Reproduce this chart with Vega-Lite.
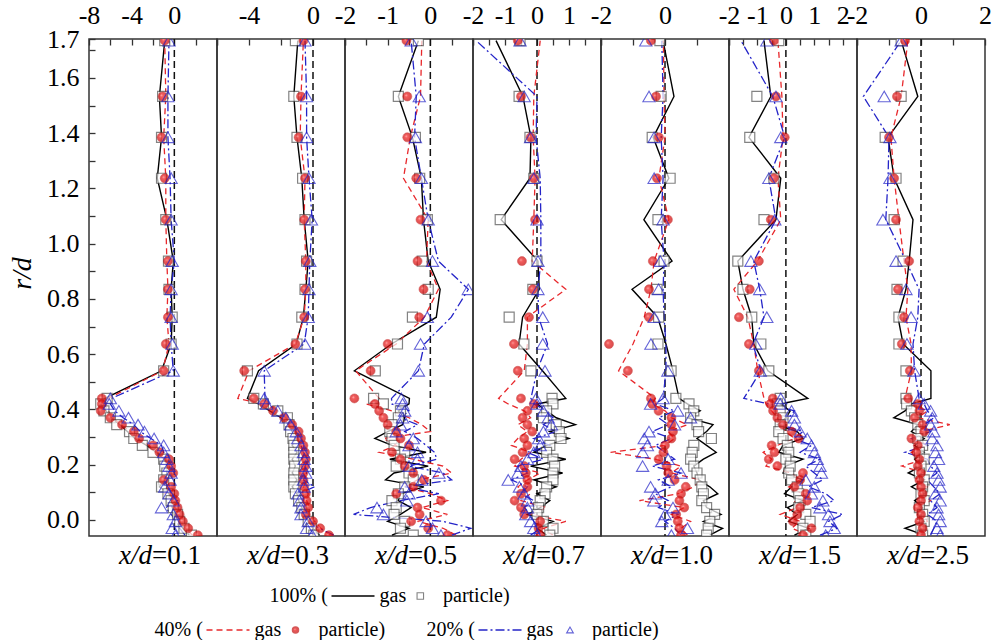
{
  "$schema": "https://vega.github.io/schema/vega-lite/v6.json",
  "background": "white",
  "padding": {"left": 7, "top": 1, "right": 2, "bottom": 0},
  "spacing": 0,
  "bounds": "flush",
  "config": {
    "view": {"stroke": "#333333", "strokeWidth": 1.5},
    "style": {"guide-label": {"font": "Liberation Serif"}, "guide-title": {"font": "Liberation Serif"}},
    "axis": {"labelFont": "Liberation Serif", "labelFontSize": 26, "labelColor": "#000000", "tickColor": "#333333", "tickWidth": 1.3, "domain": false, "grid": false, "labelFlush": false, "labelOverlap": false, "labelBound": false},
    "legend": {"labelFont": "Liberation Serif", "labelFontSize": 20, "labelColor": "#000000", "titleFont": "Liberation Serif", "titleFontSize": 20, "titleFontWeight": "normal", "titleColor": "#000000", "orient": "none", "padding": 0, "clipHeight": 20, "direction": "horizontal", "titleOrient": "left", "titleAnchor": "middle", "titleBaseline": "middle", "titlePadding": 2}
  },
  "datasets": {
    "prof": [
      {"n":1,"r":1.735,"g100":-0.9,"p100":-0.9,"g40":-0.9,"p40":-0.9,"g20":-0.5,"p20":-0.5},
      {"n":1,"r":1.533,"g100":-1.4,"p100":-1.1,"g40":-0.8,"p40":-1.1,"g20":-0.6,"p20":-0.6},
      {"n":1,"r":1.385,"g100":-1.2,"p100":-1.2,"g40":-1.0,"p40":-1.2,"g20":-0.6,"p20":-0.6},
      {"n":1,"r":1.237,"g100":-1.6,"p100":-1.2,"g40":-0.8,"p40":-0.9,"g20":-0.4,"p20":-0.3},
      {"n":1,"r":1.087,"g100":-0.7,"p100":-0.8,"g40":-0.8,"p40":-0.8,"g20":-0.3,"p20":-0.3},
      {"n":1,"r":0.937,"g100":-0.1,"p100":-0.55,"g40":-0.7,"p40":-0.6,"g20":0.0,"p20":-0.2},
      {"n":1,"r":0.835,"g100":-0.3,"p100":-0.5,"g40":-0.6,"p40":-0.6,"g20":-0.3,"p20":-0.3},
      {"n":1,"r":0.734,"g100":-0.2,"p100":-0.2,"g40":-0.7,"p40":-0.6,"g20":-0.4,"p20":-0.3},
      {"n":1,"r":0.637,"g100":-0.3,"p100":-0.3,"g40":-0.5,"p40":-0.8,"g20":-0.3,"p20":-0.2},
      {"n":1,"r":0.54,"g100":-1.2,"p100":-1.0,"g40":-1.1,"p40":-1.0,"g20":-0.1,"p20":-0.1},
      {"n":1,"r":0.44,"g100":-6.5,"p100":-6.3,"g40":-6.2,"p40":-6.8,"g20":-5.9,"p20":-6.0},
      {"n":1,"r":0.42,"g100":-6.9,"p100":-6.9,"g40":-6.6,"p40":-6.8,"g20":-6.0,"p20":-6.1},
      {"n":1,"r":0.395,"g100":-6.4,"p100":-6.6,"g40":-6.2,"p40":-6.9,"g20":-5.6,"p20":-5.2},
      {"n":1,"r":0.37,"g100":-5.9,"p100":-6.0,"g40":-5.8,"p40":-6.0,"g20":-4.8,"p20":-4.3},
      {"n":1,"r":0.345,"g100":-5.1,"p100":-5.4,"g40":-5.0,"p40":-4.9,"g20":-3.8,"p20":-3.4},
      {"n":1,"r":0.32,"g100":-4.4,"p100":-4.2,"g40":-4.1,"p40":-3.8,"g20":-3.2,"p20":-2.8},
      {"n":1,"r":0.295,"g100":-3.7,"p100":-3.8,"g40":-3.5,"p40":-3.3,"g20":-2.2,"p20":-1.9},
      {"n":1,"r":0.27,"g100":-2.6,"p100":-3.0,"g40":-2.4,"p40":-2.0,"g20":-1.2,"p20":-1.0},
      {"n":1,"r":0.245,"g100":-1.7,"p100":-2.0,"g40":-1.6,"p40":-1.4,"g20":-1.0,"p20":-1.0},
      {"n":1,"r":0.22,"g100":-0.9,"p100":-1.0,"g40":-0.8,"p40":-0.5,"g20":-0.8,"p20":-0.7},
      {"n":1,"r":0.195,"g100":-0.7,"p100":-0.9,"g40":-0.5,"p40":-0.3,"g20":-0.6,"p20":-0.5},
      {"n":1,"r":0.17,"g100":-0.7,"p100":-0.7,"g40":-0.4,"p40":-0.1,"g20":-0.4,"p20":-0.3},
      {"n":1,"r":0.145,"g100":-0.9,"p100":-1.0,"g40":-0.8,"p40":-1.0,"g20":-0.7,"p20":-0.4},
      {"n":1,"r":0.12,"g100":-1.4,"p100":-1.2,"g40":-0.4,"p40":-0.3,"g20":-0.9,"p20":-0.9},
      {"n":1,"r":0.095,"g100":-0.5,"p100":-0.6,"g40":-0.9,"p40":0.0,"g20":-0.2,"p20":-0.5},
      {"n":1,"r":0.07,"g100":-0.3,"p100":-0.3,"g40":-0.2,"p40":0.1,"g20":0.3,"p20":-0.1},
      {"n":1,"r":0.045,"g100":-0.2,"p100":-0.1,"g40":0.1,"p40":0.3,"g20":-0.8,"p20":-1.2},
      {"n":1,"r":0.02,"g100":0.2,"p100":0.3,"g40":0.4,"p40":0.5,"g20":-0.3,"p20":-0.1},
      {"n":1,"r":-0.005,"g100":0.5,"p100":0.5,"g40":0.6,"p40":0.8,"g20":0.2,"p20":0.1},
      {"n":1,"r":-0.03,"g100":0.8,"p100":0.9,"g40":1.0,"p40":1.3,"g20":0.5,"p20":-0.2},
      {"n":1,"r":-0.055,"g100":1.4,"p100":1.6,"g40":1.7,"p40":2.2,"g20":1.0,"p20":0.1},

      {"n":2,"r":1.735,"g100":-0.95,"p100":-1.1,"g40":-0.6,"p40":-0.6,"g20":-0.5,"p20":-0.5},
      {"n":2,"r":1.533,"g100":-1.2,"p100":-1.2,"g40":-0.75,"p40":-0.75,"g20":-0.4,"p20":-0.4},
      {"n":2,"r":1.385,"g100":-1.0,"p100":-1.0,"g40":-0.8,"p40":-0.9,"g20":-0.4,"p20":-0.4},
      {"n":2,"r":1.237,"g100":-0.7,"p100":-0.65,"g40":-0.5,"p40":-0.5,"g20":-0.25,"p20":-0.25},
      {"n":2,"r":1.087,"g100":-0.55,"p100":-0.5,"g40":-0.55,"p40":-0.55,"g20":-0.05,"p20":-0.1},
      {"n":2,"r":0.937,"g100":-0.3,"p100":-0.4,"g40":-0.45,"p40":-0.45,"g20":-0.2,"p20":-0.2},
      {"n":2,"r":0.835,"g100":-0.45,"p100":-0.5,"g40":-0.45,"p40":-0.5,"g20":-0.25,"p20":-0.25},
      {"n":2,"r":0.734,"g100":-0.6,"p100":-0.7,"g40":-0.55,"p40":-0.55,"g20":-0.3,"p20":-0.3},
      {"n":2,"r":0.637,"g100":-1.05,"p100":-1.0,"g40":-1.1,"p40":-1.1,"g20":-0.55,"p20":-0.5},
      {"n":2,"r":0.54,"g100":-3.4,"p100":-4.1,"g40":-4.0,"p40":-4.3,"g20":-3.05,"p20":-3.05},
      {"n":2,"r":0.44,"g100":-4.1,"p100":-3.7,"g40":-4.7,"p40":-3.7,"g20":-3.0,"p20":-3.05},
      {"n":2,"r":0.42,"g100":-3.4,"p100":-3.1,"g40":-3.2,"p40":-3.05,"g20":-2.8,"p20":-2.9},
      {"n":2,"r":0.395,"g100":-2.7,"p100":-2.2,"g40":-2.5,"p40":-2.5,"g20":-2.2,"p20":-2.2},
      {"n":2,"r":0.37,"g100":-2.0,"p100":-1.6,"g40":-1.7,"p40":-1.8,"g20":-1.7,"p20":-1.7},
      {"n":2,"r":0.345,"g100":-1.5,"p100":-1.5,"g40":-1.3,"p40":-1.3,"g20":-1.4,"p20":-1.4},
      {"n":2,"r":0.32,"g100":-1.3,"p100":-1.4,"g40":-0.9,"p40":-0.9,"g20":-1.05,"p20":-1.05},
      {"n":2,"r":0.295,"g100":-1.1,"p100":-1.25,"g40":-0.7,"p40":-0.75,"g20":-0.95,"p20":-0.95},
      {"n":2,"r":0.27,"g100":-1.3,"p100":-1.2,"g40":-0.6,"p40":-0.6,"g20":-0.75,"p20":-0.75},
      {"n":2,"r":0.245,"g100":-1.0,"p100":-1.2,"g40":-0.5,"p40":-0.5,"g20":-0.6,"p20":-0.6},
      {"n":2,"r":0.22,"g100":-1.3,"p100":-1.2,"g40":-0.7,"p40":-0.45,"g20":-0.3,"p20":-0.55},
      {"n":2,"r":0.195,"g100":-1.1,"p100":-1.15,"g40":-0.5,"p40":-0.5,"g20":-0.5,"p20":-0.45},
      {"n":2,"r":0.17,"g100":-1.3,"p100":-1.2,"g40":-0.6,"p40":-0.6,"g20":-0.4,"p20":-0.45},
      {"n":2,"r":0.145,"g100":-1.0,"p100":-1.2,"g40":-0.4,"p40":-0.6,"g20":-0.6,"p20":-0.6},
      {"n":2,"r":0.12,"g100":-1.3,"p100":-1.2,"g40":-0.6,"p40":-0.55,"g20":0.1,"p20":-0.55},
      {"n":2,"r":0.095,"g100":-1.0,"p100":-1.1,"g40":-0.3,"p40":-0.45,"g20":-0.9,"p20":-0.95},
      {"n":2,"r":0.07,"g100":-0.9,"p100":-0.9,"g40":-0.4,"p40":-0.4,"g20":-0.6,"p20":-0.85},
      {"n":2,"r":0.045,"g100":-0.7,"p100":-0.7,"g40":-0.2,"p40":-0.3,"g20":-0.7,"p20":-0.75},
      {"n":2,"r":0.02,"g100":-0.5,"p100":-0.55,"g40":-0.3,"p40":-0.45,"g20":-0.5,"p20":-0.75},
      {"n":2,"r":-0.005,"g100":-0.3,"p100":-0.3,"g40":0.1,"p40":0.0,"g20":-0.3,"p20":-0.3},
      {"n":2,"r":-0.03,"g100":0.0,"p100":-0.1,"g40":0.5,"p40":0.45,"g20":0.4,"p20":-0.4},
      {"n":2,"r":-0.055,"g100":0.4,"p100":0.05,"g40":1.1,"p40":1.0,"g20":1.3,"p20":-0.05},

      {"n":3,"r":1.735,"g100":-0.28,"p100":-0.28,"g40":-0.2,"p40":-0.56,"g20":-0.45,"p20":-0.45},
      {"n":3,"r":1.533,"g100":-0.75,"p100":-0.75,"g40":-0.23,"p40":-0.54,"g20":-0.33,"p20":-0.26},
      {"n":3,"r":1.385,"g100":-0.42,"p100":-0.35,"g40":-0.47,"p40":-0.54,"g20":-0.37,"p20":-0.35},
      {"n":3,"r":1.237,"g100":-0.21,"p100":-0.25,"g40":-0.63,"p40":-0.33,"g20":-0.21,"p20":-0.21},
      {"n":3,"r":1.087,"g100":-0.16,"p100":-0.07,"g40":-0.05,"p40":-0.23,"g20":-0.05,"p20":-0.05},
      {"n":3,"r":0.937,"g100":-0.05,"p100":-0.19,"g40":-0.09,"p40":-0.3,"g20":0.19,"p20":0.05},
      {"n":3,"r":0.835,"g100":0.23,"p100":-0.05,"g40":0.19,"p40":-0.16,"g20":0.89,"p20":0.89},
      {"n":3,"r":0.734,"g100":0.14,"p100":-0.42,"g40":-0.14,"p40":-0.26,"g20":0.49,"p20":-0.07},
      {"n":3,"r":0.637,"g100":-0.91,"p100":-0.77,"g40":-0.8,"p40":-1.0,"g20":-0.14,"p20":-0.23},
      {"n":3,"r":0.54,"g100":-1.78,"p100":-1.29,"g40":-1.75,"p40":-1.4,"g20":-0.28,"p20":-0.28},
      {"n":3,"r":0.44,"g100":-0.49,"p100":-1.33,"g40":-1.2,"p40":-1.78,"g20":-0.91,"p20":-0.68},
      {"n":3,"r":0.42,"g100":-0.5,"p100":-1.1,"g40":-1.5,"p40":-1.3,"g20":-0.9,"p20":-0.65},
      {"n":3,"r":0.395,"g100":-0.75,"p100":-0.7,"g40":-0.9,"p40":-1.2,"g20":-0.5,"p20":-0.6},
      {"n":3,"r":0.37,"g100":-0.6,"p100":-0.75,"g40":-0.5,"p40":-1.1,"g20":-0.7,"p20":-0.65},
      {"n":3,"r":0.345,"g100":-0.65,"p100":-0.9,"g40":-0.2,"p40":-1.0,"g20":-0.3,"p20":-0.7},
      {"n":3,"r":0.32,"g100":-1.0,"p100":-0.95,"g40":0.0,"p40":-0.8,"g20":-0.6,"p20":-0.8},
      {"n":3,"r":0.295,"g100":-1.3,"p100":-0.9,"g40":-1.1,"p40":-0.7,"g20":-0.3,"p20":-0.4},
      {"n":3,"r":0.27,"g100":-0.9,"p100":-0.85,"g40":-0.8,"p40":-0.5,"g20":-0.1,"p20":-0.5},
      {"n":3,"r":0.245,"g100":-0.1,"p100":-0.6,"g40":-1.2,"p40":-0.9,"g20":0.1,"p20":-0.3},
      {"n":3,"r":0.22,"g100":-0.95,"p100":-0.7,"g40":-0.4,"p40":-0.7,"g20":0.15,"p20":-0.3},
      {"n":3,"r":0.195,"g100":-0.05,"p100":-0.8,"g40":0.3,"p40":-0.6,"g20":-0.5,"p20":-0.5},
      {"n":3,"r":0.17,"g100":-0.85,"p100":-0.5,"g40":0.5,"p40":-0.4,"g20":0.3,"p20":0.2},
      {"n":3,"r":0.145,"g100":-1.05,"p100":-0.4,"g40":-0.3,"p40":-0.15,"g20":0.5,"p20":-0.2},
      {"n":3,"r":0.12,"g100":-0.15,"p100":-0.6,"g40":-0.6,"p40":-0.4,"g20":-0.6,"p20":-0.6},
      {"n":3,"r":0.095,"g100":-0.7,"p100":-0.75,"g40":0.0,"p40":-0.8,"g20":0.2,"p20":-0.5},
      {"n":3,"r":0.07,"g100":-0.75,"p100":-0.9,"g40":0.4,"p40":0.25,"g20":-0.7,"p20":-0.55},
      {"n":3,"r":0.045,"g100":-0.45,"p100":-0.8,"g40":-0.2,"p40":-0.3,"g20":-1.4,"p20":-1.25},
      {"n":3,"r":0.02,"g100":-0.7,"p100":-0.85,"g40":0.4,"p40":-0.25,"g20":-1.8,"p20":-1.1},
      {"n":3,"r":-0.005,"g100":-1.0,"p100":-0.6,"g40":-0.3,"p40":-0.45,"g20":0.3,"p20":-0.1},
      {"n":3,"r":-0.03,"g100":-0.5,"p100":-0.7,"g40":0.3,"p40":-0.05,"g20":0.95,"p20":0.05},
      {"n":3,"r":-0.055,"g100":-0.9,"p100":-0.4,"g40":0.6,"p40":0.4,"g20":0.5,"p20":0.25},

      {"n":4,"r":1.735,"g100":-1.28,"p100":-0.53,"g40":0.1,"p40":-0.6,"g20":-1.9,"p20":-0.53},
      {"n":4,"r":1.533,"g100":-0.44,"p100":-0.56,"g40":-0.1,"p40":-0.5,"g20":0.0,"p20":-0.4},
      {"n":4,"r":1.385,"g100":-0.19,"p100":-0.22,"g40":-0.12,"p40":-0.2,"g20":-0.03,"p20":-0.2},
      {"n":4,"r":1.237,"g100":-0.22,"p100":-0.1,"g40":-0.06,"p40":-0.1,"g20":0.1,"p20":-0.1},
      {"n":4,"r":1.087,"g100":-1.12,"p100":-1.15,"g40":-0.1,"p40":-0.06,"g20":0.12,"p20":0.0},
      {"n":4,"r":0.937,"g100":0.03,"p100":0.0,"g40":-0.15,"p40":-0.47,"g20":0.12,"p20":0.03},
      {"n":4,"r":0.835,"g100":0.07,"p100":-0.13,"g40":0.9,"p40":-0.13,"g20":0.03,"p20":0.03},
      {"n":4,"r":0.734,"g100":-0.45,"p100":-0.87,"g40":-0.3,"p40":-0.25,"g20":0.05,"p20":0.18},
      {"n":4,"r":0.637,"g100":-0.56,"p100":-0.41,"g40":-0.3,"p40":-0.72,"g20":0.33,"p20":0.18},
      {"n":4,"r":0.54,"g100":0.17,"p100":-0.19,"g40":-0.4,"p40":-0.6,"g20":0.0,"p20":0.25},
      {"n":4,"r":0.44,"g100":0.9,"p100":0.47,"g40":-1.2,"p40":-0.5,"g20":-0.19,"p20":-0.03},
      {"n":4,"r":0.42,"g100":0.0,"p100":0.5,"g40":-0.9,"p40":-0.1,"g20":-0.1,"p20":0.0},
      {"n":4,"r":0.395,"g100":0.3,"p100":0.3,"g40":-0.4,"p40":-0.3,"g20":0.3,"p20":0.2},
      {"n":4,"r":0.37,"g100":0.6,"p100":0.2,"g40":-0.2,"p40":-0.45,"g20":0.5,"p20":0.35},
      {"n":4,"r":0.345,"g100":1.2,"p100":0.6,"g40":-0.6,"p40":-0.3,"g20":0.2,"p20":0.45},
      {"n":4,"r":0.32,"g100":0.4,"p100":0.7,"g40":-0.3,"p40":-0.15,"g20":0.6,"p20":0.2},
      {"n":4,"r":0.295,"g100":1.0,"p100":0.75,"g40":-0.6,"p40":-0.4,"g20":-0.1,"p20":0.05},
      {"n":4,"r":0.27,"g100":0.3,"p100":0.4,"g40":-0.8,"p40":-0.3,"g20":0.4,"p20":0.1},
      {"n":4,"r":0.245,"g100":-0.1,"p100":0.3,"g40":-0.2,"p40":-0.45,"g20":-0.3,"p20":-0.1},
      {"n":4,"r":0.22,"g100":0.9,"p100":0.5,"g40":-0.5,"p40":-0.7,"g20":0.2,"p20":-0.3},
      {"n":4,"r":0.195,"g100":-0.2,"p100":0.55,"g40":-0.7,"p40":-0.4,"g20":-0.6,"p20":-0.5},
      {"n":4,"r":0.17,"g100":0.8,"p100":0.5,"g40":0.1,"p40":-0.35,"g20":-0.3,"p20":-0.6},
      {"n":4,"r":0.145,"g100":-0.1,"p100":0.5,"g40":-0.3,"p40":-0.3,"g20":-0.8,"p20":-0.9},
      {"n":4,"r":0.12,"g100":0.6,"p100":0.3,"g40":-0.6,"p40":-0.3,"g20":-0.3,"p20":-0.55},
      {"n":4,"r":0.095,"g100":0.0,"p100":0.25,"g40":-0.2,"p40":-0.5,"g20":-0.5,"p20":-0.4},
      {"n":4,"r":0.07,"g100":0.4,"p100":0.1,"g40":-0.5,"p40":-0.7,"g20":-0.1,"p20":-0.3},
      {"n":4,"r":0.045,"g100":0.1,"p100":0.05,"g40":0.3,"p40":-0.5,"g20":-0.4,"p20":-0.3},
      {"n":4,"r":0.02,"g100":-0.3,"p100":0.0,"g40":-0.2,"p40":-0.4,"g20":-0.2,"p20":-0.35},
      {"n":4,"r":-0.005,"g100":0.5,"p100":0.2,"g40":0.9,"p40":0.1,"g20":-0.1,"p20":-0.2},
      {"n":4,"r":-0.03,"g100":0.0,"p100":0.5,"g40":0.2,"p40":0.05,"g20":0.1,"p20":-0.1},
      {"n":4,"r":-0.055,"g100":0.3,"p100":0.4,"g40":0.5,"p40":0.1,"g20":-0.2,"p20":0.0},

      {"n":5,"r":1.735,"g100":-0.06,"p100":-0.16,"g40":-0.05,"p40":-0.44,"g20":-0.1,"p20":-0.6},
      {"n":5,"r":1.533,"g100":0.28,"p100":-0.12,"g40":-0.03,"p40":-0.28,"g20":-0.06,"p20":-0.5},
      {"n":5,"r":1.385,"g100":-0.37,"p100":-0.4,"g40":0.0,"p40":-0.19,"g20":-0.12,"p20":-0.34},
      {"n":5,"r":1.237,"g100":0.12,"p100":0.16,"g40":-0.19,"p40":-0.25,"g20":-0.06,"p20":-0.34},
      {"n":5,"r":1.087,"g100":-0.66,"p100":-0.22,"g40":0.12,"p40":0.09,"g20":-0.12,"p20":-0.06},
      {"n":5,"r":0.937,"g100":0.22,"p100":-0.03,"g40":-0.34,"p40":-0.38,"g20":-0.03,"p20":-0.15},
      {"n":5,"r":0.835,"g100":-1.03,"p100":-0.25,"g40":-0.44,"p40":-0.5,"g20":-0.06,"p20":-0.2},
      {"n":5,"r":0.734,"g100":-0.23,"p100":-0.2,"g40":-0.65,"p40":-0.5,"g20":-0.03,"p20":-0.34},
      {"n":5,"r":0.637,"g100":0.03,"p100":-0.22,"g40":-1.0,"p40":-1.75,"g20":0.03,"p20":-0.44},
      {"n":5,"r":0.54,"g100":0.25,"p100":0.19,"g40":-1.45,"p40":-1.16,"g20":0.03,"p20":0.09},
      {"n":5,"r":0.44,"g100":0.44,"p100":0.34,"g40":-0.3,"p40":-0.44,"g20":-0.06,"p20":-0.06},
      {"n":5,"r":0.42,"g100":0.7,"p100":0.75,"g40":-0.4,"p40":-0.4,"g20":-0.3,"p20":-0.45},
      {"n":5,"r":0.395,"g100":1.1,"p100":0.9,"g40":0.0,"p40":-0.2,"g20":0.3,"p20":0.4},
      {"n":5,"r":0.37,"g100":0.7,"p100":0.8,"g40":0.2,"p40":0.2,"g20":-0.2,"p20":0.8},
      {"n":5,"r":0.345,"g100":1.5,"p100":1.0,"g40":0.7,"p40":0.2,"g20":0.1,"p20":0.3},
      {"n":5,"r":0.32,"g100":1.3,"p100":1.05,"g40":0.1,"p40":0.25,"g20":-0.4,"p20":-0.5},
      {"n":5,"r":0.295,"g100":1.0,"p100":1.45,"g40":0.3,"p40":0.2,"g20":0.2,"p20":-0.65},
      {"n":5,"r":0.27,"g100":1.3,"p100":0.9,"g40":0.0,"p40":0.0,"g20":-0.3,"p20":-0.55},
      {"n":5,"r":0.245,"g100":1.6,"p100":0.85,"g40":-1.7,"p40":-0.05,"g20":0.0,"p20":-0.7},
      {"n":5,"r":0.22,"g100":1.2,"p100":0.8,"g40":-0.3,"p40":-0.2,"g20":0.3,"p20":0.1},
      {"n":5,"r":0.195,"g100":0.9,"p100":0.9,"g40":0.5,"p40":0.05,"g20":-0.4,"p20":-0.7},
      {"n":5,"r":0.17,"g100":1.0,"p100":1.0,"g40":0.2,"p40":0.1,"g20":0.5,"p20":0.5},
      {"n":5,"r":0.145,"g100":1.05,"p100":1.1,"g40":1.1,"p40":0.3,"g20":-0.2,"p20":0.1},
      {"n":5,"r":0.12,"g100":1.4,"p100":1.15,"g40":0.9,"p40":0.65,"g20":0.2,"p20":-0.45},
      {"n":5,"r":0.095,"g100":1.65,"p100":1.2,"g40":0.4,"p40":0.5,"g20":-0.3,"p20":-0.3},
      {"n":5,"r":0.07,"g100":1.2,"p100":1.15,"g40":-0.8,"p40":0.45,"g20":0.1,"p20":-0.35},
      {"n":5,"r":0.045,"g100":1.3,"p100":1.3,"g40":0.6,"p40":0.6,"g20":-0.2,"p20":0.25},
      {"n":5,"r":0.02,"g100":1.75,"p100":1.55,"g40":0.2,"p40":0.35,"g20":0.4,"p20":0.0},
      {"n":5,"r":-0.005,"g100":1.2,"p100":1.4,"g40":0.8,"p40":0.4,"g20":0.0,"p20":-0.1},
      {"n":5,"r":-0.03,"g100":1.8,"p100":1.35,"g40":0.5,"p40":0.45,"g20":0.3,"p20":0.7},
      {"n":5,"r":-0.055,"g100":1.4,"p100":1.3,"g40":0.7,"p40":0.5,"g20":0.5,"p20":0.2},

      {"n":6,"r":1.735,"g100":-0.77,"p100":-0.25,"g40":-0.28,"p40":-0.42,"g20":-1.58,"p20":-0.67},
      {"n":6,"r":1.533,"g100":-0.53,"p100":-1.02,"g40":-0.14,"p40":-0.35,"g20":-0.46,"p20":-0.35},
      {"n":6,"r":1.385,"g100":-1.3,"p100":-1.27,"g40":-0.1,"p40":-0.04,"g20":-0.04,"p20":-0.18},
      {"n":6,"r":1.237,"g100":-0.18,"p100":-0.42,"g40":-0.28,"p40":-0.42,"g20":-0.6,"p20":-0.6},
      {"n":6,"r":1.087,"g100":-0.35,"p100":-0.77,"g40":-0.18,"p40":-0.53,"g20":-0.35,"p20":-0.39},
      {"n":6,"r":0.937,"g100":-1.69,"p100":-1.69,"g40":-1.0,"p40":-0.95,"g20":-1.13,"p20":-1.23},
      {"n":6,"r":0.835,"g100":-1.51,"p100":-1.51,"g40":-1.83,"p40":-1.27,"g20":-0.92,"p20":-0.92},
      {"n":6,"r":0.734,"g100":-1.2,"p100":-1.2,"g40":-1.34,"p40":-1.65,"g20":-0.77,"p20":-0.67},
      {"n":6,"r":0.637,"g100":-1.13,"p100":-0.88,"g40":-1.13,"p40":-1.3,"g20":-1.16,"p20":-1.06},
      {"n":6,"r":0.54,"g100":-0.63,"p100":-0.6,"g40":-0.99,"p40":-0.95,"g20":-0.88,"p20":-0.9},
      {"n":6,"r":0.44,"g100":0.77,"p100":-0.2,"g40":-0.77,"p40":-0.46,"g20":-1.48,"p20":-0.18},
      {"n":6,"r":0.42,"g100":-0.2,"p100":-0.3,"g40":-0.7,"p40":-0.55,"g20":-0.6,"p20":-0.2},
      {"n":6,"r":0.395,"g100":0.15,"p100":-0.2,"g40":-0.5,"p40":-0.45,"g20":0.3,"p20":0.2},
      {"n":6,"r":0.37,"g100":0.0,"p100":-0.1,"g40":-0.3,"p40":-0.3,"g20":0.1,"p20":0.3},
      {"n":6,"r":0.345,"g100":-0.3,"p100":-0.2,"g40":-0.2,"p40":-0.1,"g20":-0.2,"p20":0.3},
      {"n":6,"r":0.32,"g100":0.4,"p100":-0.25,"g40":0.0,"p40":0.2,"g20":0.6,"p20":0.5},
      {"n":6,"r":0.295,"g100":0.6,"p100":-0.1,"g40":0.3,"p40":0.45,"g20":0.3,"p20":0.75},
      {"n":6,"r":0.27,"g100":-0.1,"p100":0.05,"g40":-0.3,"p40":-0.5,"g20":0.9,"p20":0.9},
      {"n":6,"r":0.245,"g100":-0.25,"p100":0.1,"g40":-0.8,"p40":-0.4,"g20":0.5,"p20":1.0},
      {"n":6,"r":0.22,"g100":0.6,"p100":0.0,"g40":-0.5,"p40":-0.6,"g20":1.2,"p20":1.1},
      {"n":6,"r":0.195,"g100":0.0,"p100":0.15,"g40":-0.7,"p40":-0.3,"g20":0.7,"p20":1.2},
      {"n":6,"r":0.17,"g100":-0.1,"p100":0.1,"g40":0.2,"p40":0.6,"g20":1.0,"p20":1.25},
      {"n":6,"r":0.145,"g100":0.6,"p100":0.2,"g40":0.5,"p40":0.5,"g20":1.3,"p20":0.7},
      {"n":6,"r":0.12,"g100":0.2,"p100":0.4,"g40":0.1,"p40":0.3,"g20":0.8,"p20":1.0},
      {"n":6,"r":0.095,"g100":-0.05,"p100":0.45,"g40":0.6,"p40":0.7,"g20":1.4,"p20":0.9},
      {"n":6,"r":0.07,"g100":0.6,"p100":0.5,"g40":0.3,"p40":0.75,"g20":1.7,"p20":1.3},
      {"n":6,"r":0.045,"g100":0.05,"p100":0.45,"g40":0.4,"p40":0.5,"g20":0.9,"p20":1.2},
      {"n":6,"r":0.02,"g100":0.4,"p100":0.7,"g40":-0.2,"p40":0.4,"g20":2.0,"p20":1.5},
      {"n":6,"r":-0.005,"g100":0.1,"p100":0.85,"g40":0.5,"p40":0.25,"g20":1.5,"p20":1.55},
      {"n":6,"r":-0.03,"g100":0.8,"p100":0.6,"g40":0.2,"p40":0.9,"g20":1.8,"p20":1.7},
      {"n":6,"r":-0.055,"g100":0.3,"p100":0.7,"g40":0.8,"p40":0.6,"g20":1.2,"p20":1.4},

      {"n":7,"r":1.735,"g100":-0.62,"p100":-0.62,"g40":-0.41,"p40":-0.5,"g20":-0.62,"p20":-0.62},
      {"n":7,"r":1.533,"g100":-0.1,"p100":-0.62,"g40":-0.62,"p40":-0.75,"g20":-1.8,"p20":-1.15},
      {"n":7,"r":1.385,"g100":-1.03,"p100":-1.12,"g40":-0.94,"p40":-1.0,"g20":-1.0,"p20":-0.97},
      {"n":7,"r":1.237,"g100":-0.84,"p100":-0.78,"g40":-0.84,"p40":-0.84,"g20":-1.03,"p20":-0.97},
      {"n":7,"r":1.087,"g100":-0.25,"p100":-0.84,"g40":-0.69,"p40":-0.78,"g20":-1.1,"p20":-1.19},
      {"n":7,"r":0.937,"g100":-0.37,"p100":-0.56,"g40":-0.53,"p40":-0.37,"g20":-0.47,"p20":-0.78},
      {"n":7,"r":0.835,"g100":-0.47,"p100":-0.75,"g40":-0.41,"p40":-0.72,"g20":-0.06,"p20":-0.47},
      {"n":7,"r":0.734,"g100":-0.72,"p100":-0.69,"g40":-0.47,"p40":-0.53,"g20":-0.1,"p20":-0.31},
      {"n":7,"r":0.637,"g100":-0.56,"p100":-0.69,"g40":-0.31,"p40":-0.6,"g20":-0.25,"p20":-0.44},
      {"n":7,"r":0.54,"g100":0.31,"p100":-0.47,"g40":-0.3,"p40":-0.35,"g20":-0.2,"p20":-0.22},
      {"n":7,"r":0.44,"g100":0.31,"p100":-0.47,"g40":-0.5,"p40":-0.4,"g20":-0.06,"p20":-0.06},
      {"n":7,"r":0.42,"g100":-0.3,"p100":-0.45,"g40":-0.4,"p40":-0.1,"g20":0.1,"p20":0.1},
      {"n":7,"r":0.395,"g100":-0.5,"p100":-0.3,"g40":0.2,"p40":-0.05,"g20":0.2,"p20":0.3},
      {"n":7,"r":0.37,"g100":-0.85,"p100":-0.2,"g40":-0.1,"p40":-0.2,"g20":0.4,"p20":0.35},
      {"n":7,"r":0.345,"g100":-0.1,"p100":-0.1,"g40":0.9,"p40":0.05,"g20":0.1,"p20":0.3},
      {"n":7,"r":0.32,"g100":-0.3,"p100":0.0,"g40":0.0,"p40":0.1,"g20":0.3,"p20":0.4},
      {"n":7,"r":0.295,"g100":0.1,"p100":-0.1,"g40":-0.2,"p40":-0.3,"g20":-0.3,"p20":0.35},
      {"n":7,"r":0.27,"g100":-0.2,"p100":0.05,"g40":0.2,"p40":-0.1,"g20":0.2,"p20":0.5},
      {"n":7,"r":0.245,"g100":0.1,"p100":-0.05,"g40":-0.3,"p40":-0.15,"g20":-0.5,"p20":0.45},
      {"n":7,"r":0.22,"g100":-0.2,"p100":0.1,"g40":0.1,"p40":-0.05,"g20":0.2,"p20":0.55},
      {"n":7,"r":0.195,"g100":0.0,"p100":0.0,"g40":-0.6,"p40":-0.1,"g20":0.3,"p20":0.4},
      {"n":7,"r":0.17,"g100":-0.4,"p100":-0.05,"g40":0.1,"p40":0.0,"g20":0.5,"p20":0.5},
      {"n":7,"r":0.145,"g100":0.1,"p100":0.1,"g40":-0.2,"p40":-0.05,"g20":0.2,"p20":0.55},
      {"n":7,"r":0.12,"g100":-0.3,"p100":0.05,"g40":0.2,"p40":0.0,"g20":0.4,"p20":0.6},
      {"n":7,"r":0.095,"g100":0.1,"p100":0.0,"g40":0.0,"p40":0.05,"g20":0.6,"p20":0.45},
      {"n":7,"r":0.07,"g100":-0.2,"p100":0.1,"g40":0.3,"p40":0.0,"g20":0.3,"p20":0.6},
      {"n":7,"r":0.045,"g100":0.05,"p100":-0.05,"g40":-0.1,"p40":-0.1,"g20":0.5,"p20":0.5},
      {"n":7,"r":0.02,"g100":-0.1,"p100":0.05,"g40":0.1,"p40":0.0,"g20":0.2,"p20":0.55},
      {"n":7,"r":-0.005,"g100":0.1,"p100":0.1,"g40":0.2,"p40":-0.05,"g20":0.5,"p20":0.6},
      {"n":7,"r":-0.03,"g100":-0.5,"p100":0.0,"g40":-0.1,"p40":0.05,"g20":0.4,"p20":0.5},
      {"n":7,"r":-0.055,"g100":0.1,"p100":0.05,"g40":0.1,"p40":0.0,"g20":0.3,"p20":0.6}
    ]
  },
  "hconcat": [
    {
      "width": 128, "height": 497,
      "data": {"name": "prof"},
      "transform": [{"filter": "datum.n === 1"}],
      "layer": [
        {"data": {"values": [{}]}, "mark": {"type": "rule", "strokeDash": [7, 4], "color": "#111111", "strokeWidth": 1.5},
         "encoding": {"x": {"datum": 0, "type": "quantitative", "scale": {"domain": [-8, 4], "nice": false, "zero": false}, "axis": {"orient": "top", "title": null, "values": [-8, -6, -4, -2, 0, 2, 4], "labelExpr": "datum.value % 4 === 0 && datum.value < 4 ? toString(datum.value) : ''", "tickSize": -6, "labelPadding": 17}}}},
        {"mark": {"type": "line", "color": "#000000", "strokeWidth": 1.4, "clip": true},
         "encoding": {"x": {"field": "g100", "type": "quantitative", "scale": {"domain": [-8, 4], "nice": false, "zero": false}, "axis": {"orient": "top", "title": null, "values": [-8, -6, -4, -2, 0, 2, 4], "labelExpr": "datum.value % 4 === 0 && datum.value < 4 ? toString(datum.value) : ''", "tickSize": -6, "labelPadding": 17}},
           "y": {"field": "r", "type": "quantitative", "scale": {"domain": [-0.058, 1.741], "nice": false, "zero": false}, "axis": {"orient": "left", "title": "r/d", "titleFont": "Liberation Serif", "titleFontSize": 28, "titleFontStyle": "italic", "titleFontWeight": "normal", "titleColor": "#000000", "titlePadding": 10, "titleY": 234, "values": [0, 0.1, 0.2, 0.3, 0.4, 0.5, 0.6, 0.7, 0.8, 0.9, 1, 1.1, 1.2, 1.3, 1.4, 1.5, 1.6, 1.7, 1.741], "labelExpr": "datum.value > 1.72 ? '1.7' : (round(datum.value * 10) % 2 === 0 ? format(datum.value, '.1f') : '')", "tickSize": -6, "labelPadding": 16}},
           "order": {"field": "r", "type": "quantitative"},
           "opacity": {"datum": "100 gas", "type": "nominal", "scale": {"domain": ["100 gas"], "range": [1, 1]},
             "legend": {"title": "100% (", "titleFont": "Liberation Serif", "titleFontSize": 20, "labelFont": "Liberation Serif", "labelFontSize": 20, "legendX": 180.5, "legendY": 547, "symbolType": "stroke", "symbolSize": 1849, "symbolStrokeColor": "#000000", "symbolStrokeWidth": 1.4, "labelOffset": 4, "labelExpr": "'gas'"}}}},
        {"mark": {"type": "line", "color": "#e8282c", "strokeDash": [6, 4], "clip": true},
         "encoding": {"x": {"field": "g40", "type": "quantitative", "scale": {"domain": [-8, 4], "nice": false, "zero": false}, "axis": {"orient": "top", "title": null, "values": [-8, -6, -4, -2, 0, 2, 4], "labelExpr": "datum.value % 4 === 0 && datum.value < 4 ? toString(datum.value) : ''", "tickSize": -6, "labelPadding": 17}},
           "y": {"field": "r", "type": "quantitative", "scale": {"domain": [-0.058, 1.741], "nice": false, "zero": false}, "axis": {"orient": "left", "title": "r/d", "titleFont": "Liberation Serif", "titleFontSize": 28, "titleFontStyle": "italic", "titleFontWeight": "normal", "titleColor": "#000000", "titlePadding": 10, "titleY": 234, "values": [0, 0.1, 0.2, 0.3, 0.4, 0.5, 0.6, 0.7, 0.8, 0.9, 1, 1.1, 1.2, 1.3, 1.4, 1.5, 1.6, 1.7, 1.741], "labelExpr": "datum.value > 1.72 ? '1.7' : (round(datum.value * 10) % 2 === 0 ? format(datum.value, '.1f') : '')", "tickSize": -6, "labelPadding": 16}},
           "order": {"field": "r", "type": "quantitative"},
           "strokeWidth": {"datum": "40 gas", "type": "nominal", "scale": {"domain": ["40 gas"], "range": [1.3, 1.3]},
             "legend": {"title": "40% (", "titleFont": "Liberation Serif", "titleFontSize": 20, "labelFont": "Liberation Serif", "labelFontSize": 20, "legendX": 65.5, "legendY": 581, "symbolType": "stroke", "symbolSize": 1849, "symbolStrokeColor": "#e8282c", "symbolDash": [6, 4], "labelOffset": 4, "labelExpr": "'gas'"}}}},
        {"mark": {"type": "line", "color": "#2424c8", "strokeWidth": 1.3, "clip": true},
         "encoding": {"x": {"field": "g20", "type": "quantitative", "scale": {"domain": [-8, 4], "nice": false, "zero": false}, "axis": {"orient": "top", "title": null, "values": [-8, -6, -4, -2, 0, 2, 4], "labelExpr": "datum.value % 4 === 0 && datum.value < 4 ? toString(datum.value) : ''", "tickSize": -6, "labelPadding": 17}},
           "y": {"field": "r", "type": "quantitative", "scale": {"domain": [-0.058, 1.741], "nice": false, "zero": false}, "axis": {"orient": "left", "title": "r/d", "titleFont": "Liberation Serif", "titleFontSize": 28, "titleFontStyle": "italic", "titleFontWeight": "normal", "titleColor": "#000000", "titlePadding": 10, "titleY": 234, "values": [0, 0.1, 0.2, 0.3, 0.4, 0.5, 0.6, 0.7, 0.8, 0.9, 1, 1.1, 1.2, 1.3, 1.4, 1.5, 1.6, 1.7, 1.741], "labelExpr": "datum.value > 1.72 ? '1.7' : (round(datum.value * 10) % 2 === 0 ? format(datum.value, '.1f') : '')", "tickSize": -6, "labelPadding": 16}},
           "order": {"field": "r", "type": "quantitative"},
           "strokeDash": {"datum": "20 gas", "type": "nominal", "scale": {"domain": ["20 gas"], "range": [[9, 3, 2, 3]]},
             "legend": {"title": "20% (", "titleFont": "Liberation Serif", "titleFontSize": 20, "labelFont": "Liberation Serif", "labelFontSize": 20, "legendX": 337.5, "legendY": 581, "symbolType": "stroke", "symbolSize": 1849, "symbolStrokeColor": "#2424c8", "symbolStrokeWidth": 1.3, "labelOffset": 4, "labelExpr": "'gas'"}}}},
        {"mark": {"type": "point", "shape": "square", "size": 100, "filled": true, "stroke": "#505050", "strokeWidth": 1.2, "clip": true},
         "encoding": {"x": {"field": "p100", "type": "quantitative", "scale": {"domain": [-8, 4], "nice": false, "zero": false}, "axis": {"orient": "top", "title": null, "values": [-8, -6, -4, -2, 0, 2, 4], "labelExpr": "datum.value % 4 === 0 && datum.value < 4 ? toString(datum.value) : ''", "tickSize": -6, "labelPadding": 17}},
           "y": {"field": "r", "type": "quantitative", "scale": {"domain": [-0.058, 1.741], "nice": false, "zero": false}, "axis": {"orient": "left", "title": "r/d", "titleFont": "Liberation Serif", "titleFontSize": 28, "titleFontStyle": "italic", "titleFontWeight": "normal", "titleColor": "#000000", "titlePadding": 10, "titleY": 234, "values": [0, 0.1, 0.2, 0.3, 0.4, 0.5, 0.6, 0.7, 0.8, 0.9, 1, 1.1, 1.2, 1.3, 1.4, 1.5, 1.6, 1.7, 1.741], "labelExpr": "datum.value > 1.72 ? '1.7' : (round(datum.value * 10) % 2 === 0 ? format(datum.value, '.1f') : '')", "tickSize": -6, "labelPadding": 16}},
           "color": {"datum": "100 particle", "type": "nominal", "scale": {"domain": ["100 particle"], "range": ["#ffffff"]},
             "legend": {"title": null, "labelFont": "Liberation Serif", "labelFontSize": 20, "legendX": 321.3, "legendY": 547, "symbolType": "square", "symbolSize": 42, "symbolStrokeColor": "#505050", "symbolStrokeWidth": 1.1, "labelOffset": 12.7, "labelExpr": "'particle)'"}}}},
        {"mark": {"type": "point", "shape": "circle", "size": 81, "filled": true, "fill": {"gradient": "radial", "x1": 0.35, "y1": 0.35, "r1": 0, "x2": 0.5, "y2": 0.5, "r2": 0.55, "stops": [{"offset": 0, "color": "#ff9a9a"}, {"offset": 0.3, "color": "#f01818"}, {"offset": 1, "color": "#bf0000"}]}, "strokeWidth": 0.6, "clip": true},
         "encoding": {"x": {"field": "p40", "type": "quantitative", "scale": {"domain": [-8, 4], "nice": false, "zero": false}, "axis": {"orient": "top", "title": null, "values": [-8, -6, -4, -2, 0, 2, 4], "labelExpr": "datum.value % 4 === 0 && datum.value < 4 ? toString(datum.value) : ''", "tickSize": -6, "labelPadding": 17}},
           "y": {"field": "r", "type": "quantitative", "scale": {"domain": [-0.058, 1.741], "nice": false, "zero": false}, "axis": {"orient": "left", "title": "r/d", "titleFont": "Liberation Serif", "titleFontSize": 28, "titleFontStyle": "italic", "titleFontWeight": "normal", "titleColor": "#000000", "titlePadding": 10, "titleY": 234, "values": [0, 0.1, 0.2, 0.3, 0.4, 0.5, 0.6, 0.7, 0.8, 0.9, 1, 1.1, 1.2, 1.3, 1.4, 1.5, 1.6, 1.7, 1.741], "labelExpr": "datum.value > 1.72 ? '1.7' : (round(datum.value * 10) % 2 === 0 ? format(datum.value, '.1f') : '')", "tickSize": -6, "labelPadding": 16}},
           "stroke": {"datum": "40 particle", "type": "nominal", "scale": {"domain": ["40 particle"], "range": ["#c41212"]},
             "legend": {"title": null, "labelFont": "Liberation Serif", "labelFontSize": 20, "legendX": 196.5, "legendY": 581, "symbolType": "circle", "symbolSize": 36, "symbolFillColor": "#e8282c", "labelOffset": 13, "labelExpr": "'particle)'"}}}},
        {"mark": {"type": "point", "size": 150, "filled": false, "color": "#2424c8", "stroke": "#2424c8", "strokeWidth": 1.1, "clip": true},
         "encoding": {"x": {"field": "p20", "type": "quantitative", "scale": {"domain": [-8, 4], "nice": false, "zero": false}, "axis": {"orient": "top", "title": null, "values": [-8, -6, -4, -2, 0, 2, 4], "labelExpr": "datum.value % 4 === 0 && datum.value < 4 ? toString(datum.value) : ''", "tickSize": -6, "labelPadding": 17}},
           "y": {"field": "r", "type": "quantitative", "scale": {"domain": [-0.058, 1.741], "nice": false, "zero": false}, "axis": {"orient": "left", "title": "r/d", "titleFont": "Liberation Serif", "titleFontSize": 28, "titleFontStyle": "italic", "titleFontWeight": "normal", "titleColor": "#000000", "titlePadding": 10, "titleY": 234, "values": [0, 0.1, 0.2, 0.3, 0.4, 0.5, 0.6, 0.7, 0.8, 0.9, 1, 1.1, 1.2, 1.3, 1.4, 1.5, 1.6, 1.7, 1.741], "labelExpr": "datum.value > 1.72 ? '1.7' : (round(datum.value * 10) % 2 === 0 ? format(datum.value, '.1f') : '')", "tickSize": -6, "labelPadding": 16}},
           "shape": {"datum": "20 particle", "type": "nominal", "scale": {"domain": ["20 particle"], "range": ["triangle-up"]},
             "legend": {"title": null, "labelFont": "Liberation Serif", "labelFontSize": 20, "legendX": 471, "legendY": 581, "symbolSize": 45, "symbolStrokeColor": "#2424c8", "symbolFillColor": "transparent", "symbolStrokeWidth": 1.1, "labelOffset": 12, "labelExpr": "'particle)'"}}}},
        {"data": {"values": [{"a": "x/d", "b": "=0.1"}]},
         "encoding": {"x": {"datum": -2, "type": "quantitative", "scale": {"domain": [-8, 4], "nice": false, "zero": false}, "axis": {"orient": "top", "title": null, "values": [-8, -6, -4, -2, 0, 2, 4], "labelExpr": "datum.value % 4 === 0 && datum.value < 4 ? toString(datum.value) : ''", "tickSize": -6, "labelPadding": 17}},
           "y": {"datum": -0.058, "type": "quantitative", "scale": {"domain": [-0.058, 1.741], "nice": false, "zero": false}, "axis": {"orient": "left", "title": "r/d", "titleFont": "Liberation Serif", "titleFontSize": 28, "titleFontStyle": "italic", "titleFontWeight": "normal", "titleColor": "#000000", "titlePadding": 10, "titleY": 234, "values": [0, 0.1, 0.2, 0.3, 0.4, 0.5, 0.6, 0.7, 0.8, 0.9, 1, 1.1, 1.2, 1.3, 1.4, 1.5, 1.6, 1.7, 1.741], "labelExpr": "datum.value > 1.72 ? '1.7' : (round(datum.value * 10) % 2 === 0 ? format(datum.value, '.1f') : '')", "tickSize": -6, "labelPadding": 16}}},
         "layer": [
           {"mark": {"type": "text", "align": "right", "baseline": "alphabetic", "dx": -1, "dy": 28, "font": "Liberation Serif", "fontSize": 27, "fontStyle": "italic", "color": "#000000"}, "encoding": {"text": {"field": "a", "type": "nominal"}}},
           {"mark": {"type": "text", "align": "left", "baseline": "alphabetic", "dx": -1, "dy": 28, "font": "Liberation Serif", "fontSize": 27, "color": "#000000"}, "encoding": {"text": {"field": "b", "type": "nominal"}}}
         ]}
      ]
    },
    {
      "width": 128, "height": 497,
      "data": {"name": "prof"},
      "transform": [{"filter": "datum.n === 2"}],
      "layer": [
        {"data": {"values": [{}]}, "mark": {"type": "rule", "strokeDash": [7, 4], "color": "#111111", "strokeWidth": 1.5},
         "encoding": {"x": {"datum": 0, "type": "quantitative", "scale": {"domain": [-6, 2], "nice": false, "zero": false}, "axis": {"orient": "top", "title": null, "values": [-6, -4, -2, 0, 2], "labelExpr": "datum.value === -4 || datum.value === 0 ? toString(datum.value) : ''", "tickSize": -6, "labelPadding": 17}}}},
        {"mark": {"type": "line", "color": "#000000", "strokeWidth": 1.4, "clip": true},
         "encoding": {"x": {"field": "g100", "type": "quantitative", "scale": {"domain": [-6, 2], "nice": false, "zero": false}, "axis": {"orient": "top", "title": null, "values": [-6, -4, -2, 0, 2], "labelExpr": "datum.value === -4 || datum.value === 0 ? toString(datum.value) : ''", "tickSize": -6, "labelPadding": 17}},
           "y": {"field": "r", "type": "quantitative", "scale": {"domain": [-0.058, 1.741], "nice": false, "zero": false}, "axis": null},
           "order": {"field": "r", "type": "quantitative"}}},
        {"mark": {"type": "line", "color": "#e8282c", "strokeWidth": 1.3, "strokeDash": [6, 4], "clip": true},
         "encoding": {"x": {"field": "g40", "type": "quantitative", "scale": {"domain": [-6, 2], "nice": false, "zero": false}, "axis": {"orient": "top", "title": null, "values": [-6, -4, -2, 0, 2], "labelExpr": "datum.value === -4 || datum.value === 0 ? toString(datum.value) : ''", "tickSize": -6, "labelPadding": 17}},
           "y": {"field": "r", "type": "quantitative", "scale": {"domain": [-0.058, 1.741], "nice": false, "zero": false}, "axis": null},
           "order": {"field": "r", "type": "quantitative"}}},
        {"mark": {"type": "line", "color": "#2424c8", "strokeWidth": 1.3, "strokeDash": [9, 3, 2, 3], "clip": true},
         "encoding": {"x": {"field": "g20", "type": "quantitative", "scale": {"domain": [-6, 2], "nice": false, "zero": false}, "axis": {"orient": "top", "title": null, "values": [-6, -4, -2, 0, 2], "labelExpr": "datum.value === -4 || datum.value === 0 ? toString(datum.value) : ''", "tickSize": -6, "labelPadding": 17}},
           "y": {"field": "r", "type": "quantitative", "scale": {"domain": [-0.058, 1.741], "nice": false, "zero": false}, "axis": null},
           "order": {"field": "r", "type": "quantitative"}}},
        {"mark": {"type": "point", "shape": "square", "size": 100, "filled": true, "fill": "#ffffff", "stroke": "#505050", "strokeWidth": 1.2, "clip": true},
         "encoding": {"x": {"field": "p100", "type": "quantitative", "scale": {"domain": [-6, 2], "nice": false, "zero": false}, "axis": {"orient": "top", "title": null, "values": [-6, -4, -2, 0, 2], "labelExpr": "datum.value === -4 || datum.value === 0 ? toString(datum.value) : ''", "tickSize": -6, "labelPadding": 17}},
           "y": {"field": "r", "type": "quantitative", "scale": {"domain": [-0.058, 1.741], "nice": false, "zero": false}, "axis": null}}},
        {"mark": {"type": "point", "shape": "circle", "size": 81, "filled": true, "fill": {"gradient": "radial", "x1": 0.35, "y1": 0.35, "r1": 0, "x2": 0.5, "y2": 0.5, "r2": 0.55, "stops": [{"offset": 0, "color": "#ff9a9a"}, {"offset": 0.3, "color": "#f01818"}, {"offset": 1, "color": "#bf0000"}]}, "stroke": "#c41212", "strokeWidth": 0.6, "clip": true},
         "encoding": {"x": {"field": "p40", "type": "quantitative", "scale": {"domain": [-6, 2], "nice": false, "zero": false}, "axis": {"orient": "top", "title": null, "values": [-6, -4, -2, 0, 2], "labelExpr": "datum.value === -4 || datum.value === 0 ? toString(datum.value) : ''", "tickSize": -6, "labelPadding": 17}},
           "y": {"field": "r", "type": "quantitative", "scale": {"domain": [-0.058, 1.741], "nice": false, "zero": false}, "axis": null}}},
        {"mark": {"type": "point", "shape": "triangle-up", "size": 150, "filled": false, "color": "#2424c8", "stroke": "#2424c8", "strokeWidth": 1.1, "clip": true},
         "encoding": {"x": {"field": "p20", "type": "quantitative", "scale": {"domain": [-6, 2], "nice": false, "zero": false}, "axis": {"orient": "top", "title": null, "values": [-6, -4, -2, 0, 2], "labelExpr": "datum.value === -4 || datum.value === 0 ? toString(datum.value) : ''", "tickSize": -6, "labelPadding": 17}},
           "y": {"field": "r", "type": "quantitative", "scale": {"domain": [-0.058, 1.741], "nice": false, "zero": false}, "axis": null}}},
        {"data": {"values": [{"a": "x/d", "b": "=0.3"}]},
         "encoding": {"x": {"datum": -2, "type": "quantitative", "scale": {"domain": [-6, 2], "nice": false, "zero": false}, "axis": {"orient": "top", "title": null, "values": [-6, -4, -2, 0, 2], "labelExpr": "datum.value === -4 || datum.value === 0 ? toString(datum.value) : ''", "tickSize": -6, "labelPadding": 17}},
           "y": {"datum": -0.058, "type": "quantitative", "scale": {"domain": [-0.058, 1.741], "nice": false, "zero": false}, "axis": null}},
         "layer": [
           {"mark": {"type": "text", "align": "right", "baseline": "alphabetic", "dx": -1, "dy": 28, "font": "Liberation Serif", "fontSize": 27, "fontStyle": "italic", "color": "#000000"}, "encoding": {"text": {"field": "a", "type": "nominal"}}},
           {"mark": {"type": "text", "align": "left", "baseline": "alphabetic", "dx": -1, "dy": 28, "font": "Liberation Serif", "fontSize": 27, "color": "#000000"}, "encoding": {"text": {"field": "b", "type": "nominal"}}}
         ]}
      ]
    },
    {
      "width": 128, "height": 497,
      "data": {"name": "prof"},
      "transform": [{"filter": "datum.n === 3"}],
      "layer": [
        {"data": {"values": [{}]}, "mark": {"type": "rule", "strokeDash": [7, 4], "color": "#111111", "strokeWidth": 1.5},
         "encoding": {"x": {"datum": 0, "type": "quantitative", "scale": {"domain": [-2, 1], "nice": false, "zero": false}, "axis": {"orient": "top", "title": null, "values": [-2, -1.5, -1, -0.5, 0, 0.5, 1], "labelExpr": "datum.value % 1 === 0 && datum.value < 1 ? toString(datum.value) : ''", "tickSize": -6, "labelPadding": 17}}}},
        {"mark": {"type": "line", "color": "#000000", "strokeWidth": 1.4, "clip": true},
         "encoding": {"x": {"field": "g100", "type": "quantitative", "scale": {"domain": [-2, 1], "nice": false, "zero": false}, "axis": {"orient": "top", "title": null, "values": [-2, -1.5, -1, -0.5, 0, 0.5, 1], "labelExpr": "datum.value % 1 === 0 && datum.value < 1 ? toString(datum.value) : ''", "tickSize": -6, "labelPadding": 17}},
           "y": {"field": "r", "type": "quantitative", "scale": {"domain": [-0.058, 1.741], "nice": false, "zero": false}, "axis": null},
           "order": {"field": "r", "type": "quantitative"}}},
        {"mark": {"type": "line", "color": "#e8282c", "strokeWidth": 1.3, "strokeDash": [6, 4], "clip": true},
         "encoding": {"x": {"field": "g40", "type": "quantitative", "scale": {"domain": [-2, 1], "nice": false, "zero": false}, "axis": {"orient": "top", "title": null, "values": [-2, -1.5, -1, -0.5, 0, 0.5, 1], "labelExpr": "datum.value % 1 === 0 && datum.value < 1 ? toString(datum.value) : ''", "tickSize": -6, "labelPadding": 17}},
           "y": {"field": "r", "type": "quantitative", "scale": {"domain": [-0.058, 1.741], "nice": false, "zero": false}, "axis": null},
           "order": {"field": "r", "type": "quantitative"}}},
        {"mark": {"type": "line", "color": "#2424c8", "strokeWidth": 1.3, "strokeDash": [9, 3, 2, 3], "clip": true},
         "encoding": {"x": {"field": "g20", "type": "quantitative", "scale": {"domain": [-2, 1], "nice": false, "zero": false}, "axis": {"orient": "top", "title": null, "values": [-2, -1.5, -1, -0.5, 0, 0.5, 1], "labelExpr": "datum.value % 1 === 0 && datum.value < 1 ? toString(datum.value) : ''", "tickSize": -6, "labelPadding": 17}},
           "y": {"field": "r", "type": "quantitative", "scale": {"domain": [-0.058, 1.741], "nice": false, "zero": false}, "axis": null},
           "order": {"field": "r", "type": "quantitative"}}},
        {"mark": {"type": "point", "shape": "square", "size": 100, "filled": true, "fill": "#ffffff", "stroke": "#505050", "strokeWidth": 1.2, "clip": true},
         "encoding": {"x": {"field": "p100", "type": "quantitative", "scale": {"domain": [-2, 1], "nice": false, "zero": false}, "axis": {"orient": "top", "title": null, "values": [-2, -1.5, -1, -0.5, 0, 0.5, 1], "labelExpr": "datum.value % 1 === 0 && datum.value < 1 ? toString(datum.value) : ''", "tickSize": -6, "labelPadding": 17}},
           "y": {"field": "r", "type": "quantitative", "scale": {"domain": [-0.058, 1.741], "nice": false, "zero": false}, "axis": null}}},
        {"mark": {"type": "point", "shape": "circle", "size": 81, "filled": true, "fill": {"gradient": "radial", "x1": 0.35, "y1": 0.35, "r1": 0, "x2": 0.5, "y2": 0.5, "r2": 0.55, "stops": [{"offset": 0, "color": "#ff9a9a"}, {"offset": 0.3, "color": "#f01818"}, {"offset": 1, "color": "#bf0000"}]}, "stroke": "#c41212", "strokeWidth": 0.6, "clip": true},
         "encoding": {"x": {"field": "p40", "type": "quantitative", "scale": {"domain": [-2, 1], "nice": false, "zero": false}, "axis": {"orient": "top", "title": null, "values": [-2, -1.5, -1, -0.5, 0, 0.5, 1], "labelExpr": "datum.value % 1 === 0 && datum.value < 1 ? toString(datum.value) : ''", "tickSize": -6, "labelPadding": 17}},
           "y": {"field": "r", "type": "quantitative", "scale": {"domain": [-0.058, 1.741], "nice": false, "zero": false}, "axis": null}}},
        {"mark": {"type": "point", "shape": "triangle-up", "size": 150, "filled": false, "color": "#2424c8", "stroke": "#2424c8", "strokeWidth": 1.1, "clip": true},
         "encoding": {"x": {"field": "p20", "type": "quantitative", "scale": {"domain": [-2, 1], "nice": false, "zero": false}, "axis": {"orient": "top", "title": null, "values": [-2, -1.5, -1, -0.5, 0, 0.5, 1], "labelExpr": "datum.value % 1 === 0 && datum.value < 1 ? toString(datum.value) : ''", "tickSize": -6, "labelPadding": 17}},
           "y": {"field": "r", "type": "quantitative", "scale": {"domain": [-0.058, 1.741], "nice": false, "zero": false}, "axis": null}}},
        {"data": {"values": [{"a": "x/d", "b": "=0.5"}]},
         "encoding": {"x": {"datum": -0.5, "type": "quantitative", "scale": {"domain": [-2, 1], "nice": false, "zero": false}, "axis": {"orient": "top", "title": null, "values": [-2, -1.5, -1, -0.5, 0, 0.5, 1], "labelExpr": "datum.value % 1 === 0 && datum.value < 1 ? toString(datum.value) : ''", "tickSize": -6, "labelPadding": 17}},
           "y": {"datum": -0.058, "type": "quantitative", "scale": {"domain": [-0.058, 1.741], "nice": false, "zero": false}, "axis": null}},
         "layer": [
           {"mark": {"type": "text", "align": "right", "baseline": "alphabetic", "dx": -1, "dy": 28, "font": "Liberation Serif", "fontSize": 27, "fontStyle": "italic", "color": "#000000"}, "encoding": {"text": {"field": "a", "type": "nominal"}}},
           {"mark": {"type": "text", "align": "left", "baseline": "alphabetic", "dx": -1, "dy": 28, "font": "Liberation Serif", "fontSize": 27, "color": "#000000"}, "encoding": {"text": {"field": "b", "type": "nominal"}}}
         ]}
      ]
    },
    {
      "width": 128, "height": 497,
      "data": {"name": "prof"},
      "transform": [{"filter": "datum.n === 4"}],
      "layer": [
        {"data": {"values": [{}]}, "mark": {"type": "rule", "strokeDash": [7, 4], "color": "#111111", "strokeWidth": 1.5},
         "encoding": {"x": {"datum": 0, "type": "quantitative", "scale": {"domain": [-2, 2], "nice": false, "zero": false}, "axis": {"orient": "top", "title": null, "values": [-2, -1.5, -1, -0.5, 0, 0.5, 1, 1.5, 2], "labelExpr": "datum.value % 1 === 0 && datum.value < 2 ? toString(datum.value) : ''", "tickSize": -6, "labelPadding": 17}}}},
        {"mark": {"type": "line", "color": "#000000", "strokeWidth": 1.4, "clip": true},
         "encoding": {"x": {"field": "g100", "type": "quantitative", "scale": {"domain": [-2, 2], "nice": false, "zero": false}, "axis": {"orient": "top", "title": null, "values": [-2, -1.5, -1, -0.5, 0, 0.5, 1, 1.5, 2], "labelExpr": "datum.value % 1 === 0 && datum.value < 2 ? toString(datum.value) : ''", "tickSize": -6, "labelPadding": 17}},
           "y": {"field": "r", "type": "quantitative", "scale": {"domain": [-0.058, 1.741], "nice": false, "zero": false}, "axis": null},
           "order": {"field": "r", "type": "quantitative"}}},
        {"mark": {"type": "line", "color": "#e8282c", "strokeWidth": 1.3, "strokeDash": [6, 4], "clip": true},
         "encoding": {"x": {"field": "g40", "type": "quantitative", "scale": {"domain": [-2, 2], "nice": false, "zero": false}, "axis": {"orient": "top", "title": null, "values": [-2, -1.5, -1, -0.5, 0, 0.5, 1, 1.5, 2], "labelExpr": "datum.value % 1 === 0 && datum.value < 2 ? toString(datum.value) : ''", "tickSize": -6, "labelPadding": 17}},
           "y": {"field": "r", "type": "quantitative", "scale": {"domain": [-0.058, 1.741], "nice": false, "zero": false}, "axis": null},
           "order": {"field": "r", "type": "quantitative"}}},
        {"mark": {"type": "line", "color": "#2424c8", "strokeWidth": 1.3, "strokeDash": [9, 3, 2, 3], "clip": true},
         "encoding": {"x": {"field": "g20", "type": "quantitative", "scale": {"domain": [-2, 2], "nice": false, "zero": false}, "axis": {"orient": "top", "title": null, "values": [-2, -1.5, -1, -0.5, 0, 0.5, 1, 1.5, 2], "labelExpr": "datum.value % 1 === 0 && datum.value < 2 ? toString(datum.value) : ''", "tickSize": -6, "labelPadding": 17}},
           "y": {"field": "r", "type": "quantitative", "scale": {"domain": [-0.058, 1.741], "nice": false, "zero": false}, "axis": null},
           "order": {"field": "r", "type": "quantitative"}}},
        {"mark": {"type": "point", "shape": "square", "size": 100, "filled": true, "fill": "#ffffff", "stroke": "#505050", "strokeWidth": 1.2, "clip": true},
         "encoding": {"x": {"field": "p100", "type": "quantitative", "scale": {"domain": [-2, 2], "nice": false, "zero": false}, "axis": {"orient": "top", "title": null, "values": [-2, -1.5, -1, -0.5, 0, 0.5, 1, 1.5, 2], "labelExpr": "datum.value % 1 === 0 && datum.value < 2 ? toString(datum.value) : ''", "tickSize": -6, "labelPadding": 17}},
           "y": {"field": "r", "type": "quantitative", "scale": {"domain": [-0.058, 1.741], "nice": false, "zero": false}, "axis": null}}},
        {"mark": {"type": "point", "shape": "circle", "size": 81, "filled": true, "fill": {"gradient": "radial", "x1": 0.35, "y1": 0.35, "r1": 0, "x2": 0.5, "y2": 0.5, "r2": 0.55, "stops": [{"offset": 0, "color": "#ff9a9a"}, {"offset": 0.3, "color": "#f01818"}, {"offset": 1, "color": "#bf0000"}]}, "stroke": "#c41212", "strokeWidth": 0.6, "clip": true},
         "encoding": {"x": {"field": "p40", "type": "quantitative", "scale": {"domain": [-2, 2], "nice": false, "zero": false}, "axis": {"orient": "top", "title": null, "values": [-2, -1.5, -1, -0.5, 0, 0.5, 1, 1.5, 2], "labelExpr": "datum.value % 1 === 0 && datum.value < 2 ? toString(datum.value) : ''", "tickSize": -6, "labelPadding": 17}},
           "y": {"field": "r", "type": "quantitative", "scale": {"domain": [-0.058, 1.741], "nice": false, "zero": false}, "axis": null}}},
        {"mark": {"type": "point", "shape": "triangle-up", "size": 150, "filled": false, "color": "#2424c8", "stroke": "#2424c8", "strokeWidth": 1.1, "clip": true},
         "encoding": {"x": {"field": "p20", "type": "quantitative", "scale": {"domain": [-2, 2], "nice": false, "zero": false}, "axis": {"orient": "top", "title": null, "values": [-2, -1.5, -1, -0.5, 0, 0.5, 1, 1.5, 2], "labelExpr": "datum.value % 1 === 0 && datum.value < 2 ? toString(datum.value) : ''", "tickSize": -6, "labelPadding": 17}},
           "y": {"field": "r", "type": "quantitative", "scale": {"domain": [-0.058, 1.741], "nice": false, "zero": false}, "axis": null}}},
        {"data": {"values": [{"a": "x/d", "b": "=0.7"}]},
         "encoding": {"x": {"datum": 0, "type": "quantitative", "scale": {"domain": [-2, 2], "nice": false, "zero": false}, "axis": {"orient": "top", "title": null, "values": [-2, -1.5, -1, -0.5, 0, 0.5, 1, 1.5, 2], "labelExpr": "datum.value % 1 === 0 && datum.value < 2 ? toString(datum.value) : ''", "tickSize": -6, "labelPadding": 17}},
           "y": {"datum": -0.058, "type": "quantitative", "scale": {"domain": [-0.058, 1.741], "nice": false, "zero": false}, "axis": null}},
         "layer": [
           {"mark": {"type": "text", "align": "right", "baseline": "alphabetic", "dx": -1, "dy": 28, "font": "Liberation Serif", "fontSize": 27, "fontStyle": "italic", "color": "#000000"}, "encoding": {"text": {"field": "a", "type": "nominal"}}},
           {"mark": {"type": "text", "align": "left", "baseline": "alphabetic", "dx": -1, "dy": 28, "font": "Liberation Serif", "fontSize": 27, "color": "#000000"}, "encoding": {"text": {"field": "b", "type": "nominal"}}}
         ]}
      ]
    },
    {
      "width": 128, "height": 497,
      "data": {"name": "prof"},
      "transform": [{"filter": "datum.n === 5"}],
      "layer": [
        {"data": {"values": [{}]}, "mark": {"type": "rule", "strokeDash": [7, 4], "color": "#111111", "strokeWidth": 1.5},
         "encoding": {"x": {"datum": 0, "type": "quantitative", "scale": {"domain": [-2, 2], "nice": false, "zero": false}, "axis": {"orient": "top", "title": null, "values": [-2, -1, 0, 1, 2], "labelExpr": "datum.value % 2 === 0 && datum.value < 2 ? toString(datum.value) : ''", "tickSize": -6, "labelPadding": 17}}}},
        {"mark": {"type": "line", "color": "#000000", "strokeWidth": 1.4, "clip": true},
         "encoding": {"x": {"field": "g100", "type": "quantitative", "scale": {"domain": [-2, 2], "nice": false, "zero": false}, "axis": {"orient": "top", "title": null, "values": [-2, -1, 0, 1, 2], "labelExpr": "datum.value % 2 === 0 && datum.value < 2 ? toString(datum.value) : ''", "tickSize": -6, "labelPadding": 17}},
           "y": {"field": "r", "type": "quantitative", "scale": {"domain": [-0.058, 1.741], "nice": false, "zero": false}, "axis": null},
           "order": {"field": "r", "type": "quantitative"}}},
        {"mark": {"type": "line", "color": "#e8282c", "strokeWidth": 1.3, "strokeDash": [6, 4], "clip": true},
         "encoding": {"x": {"field": "g40", "type": "quantitative", "scale": {"domain": [-2, 2], "nice": false, "zero": false}, "axis": {"orient": "top", "title": null, "values": [-2, -1, 0, 1, 2], "labelExpr": "datum.value % 2 === 0 && datum.value < 2 ? toString(datum.value) : ''", "tickSize": -6, "labelPadding": 17}},
           "y": {"field": "r", "type": "quantitative", "scale": {"domain": [-0.058, 1.741], "nice": false, "zero": false}, "axis": null},
           "order": {"field": "r", "type": "quantitative"}}},
        {"mark": {"type": "line", "color": "#2424c8", "strokeWidth": 1.3, "strokeDash": [9, 3, 2, 3], "clip": true},
         "encoding": {"x": {"field": "g20", "type": "quantitative", "scale": {"domain": [-2, 2], "nice": false, "zero": false}, "axis": {"orient": "top", "title": null, "values": [-2, -1, 0, 1, 2], "labelExpr": "datum.value % 2 === 0 && datum.value < 2 ? toString(datum.value) : ''", "tickSize": -6, "labelPadding": 17}},
           "y": {"field": "r", "type": "quantitative", "scale": {"domain": [-0.058, 1.741], "nice": false, "zero": false}, "axis": null},
           "order": {"field": "r", "type": "quantitative"}}},
        {"mark": {"type": "point", "shape": "square", "size": 100, "filled": true, "fill": "#ffffff", "stroke": "#505050", "strokeWidth": 1.2, "clip": true},
         "encoding": {"x": {"field": "p100", "type": "quantitative", "scale": {"domain": [-2, 2], "nice": false, "zero": false}, "axis": {"orient": "top", "title": null, "values": [-2, -1, 0, 1, 2], "labelExpr": "datum.value % 2 === 0 && datum.value < 2 ? toString(datum.value) : ''", "tickSize": -6, "labelPadding": 17}},
           "y": {"field": "r", "type": "quantitative", "scale": {"domain": [-0.058, 1.741], "nice": false, "zero": false}, "axis": null}}},
        {"mark": {"type": "point", "shape": "circle", "size": 81, "filled": true, "fill": {"gradient": "radial", "x1": 0.35, "y1": 0.35, "r1": 0, "x2": 0.5, "y2": 0.5, "r2": 0.55, "stops": [{"offset": 0, "color": "#ff9a9a"}, {"offset": 0.3, "color": "#f01818"}, {"offset": 1, "color": "#bf0000"}]}, "stroke": "#c41212", "strokeWidth": 0.6, "clip": true},
         "encoding": {"x": {"field": "p40", "type": "quantitative", "scale": {"domain": [-2, 2], "nice": false, "zero": false}, "axis": {"orient": "top", "title": null, "values": [-2, -1, 0, 1, 2], "labelExpr": "datum.value % 2 === 0 && datum.value < 2 ? toString(datum.value) : ''", "tickSize": -6, "labelPadding": 17}},
           "y": {"field": "r", "type": "quantitative", "scale": {"domain": [-0.058, 1.741], "nice": false, "zero": false}, "axis": null}}},
        {"mark": {"type": "point", "shape": "triangle-up", "size": 150, "filled": false, "color": "#2424c8", "stroke": "#2424c8", "strokeWidth": 1.1, "clip": true},
         "encoding": {"x": {"field": "p20", "type": "quantitative", "scale": {"domain": [-2, 2], "nice": false, "zero": false}, "axis": {"orient": "top", "title": null, "values": [-2, -1, 0, 1, 2], "labelExpr": "datum.value % 2 === 0 && datum.value < 2 ? toString(datum.value) : ''", "tickSize": -6, "labelPadding": 17}},
           "y": {"field": "r", "type": "quantitative", "scale": {"domain": [-0.058, 1.741], "nice": false, "zero": false}, "axis": null}}},
        {"data": {"values": [{"a": "x/d", "b": "=1.0"}]},
         "encoding": {"x": {"datum": 0, "type": "quantitative", "scale": {"domain": [-2, 2], "nice": false, "zero": false}, "axis": {"orient": "top", "title": null, "values": [-2, -1, 0, 1, 2], "labelExpr": "datum.value % 2 === 0 && datum.value < 2 ? toString(datum.value) : ''", "tickSize": -6, "labelPadding": 17}},
           "y": {"datum": -0.058, "type": "quantitative", "scale": {"domain": [-0.058, 1.741], "nice": false, "zero": false}, "axis": null}},
         "layer": [
           {"mark": {"type": "text", "align": "right", "baseline": "alphabetic", "dx": -1, "dy": 28, "font": "Liberation Serif", "fontSize": 27, "fontStyle": "italic", "color": "#000000"}, "encoding": {"text": {"field": "a", "type": "nominal"}}},
           {"mark": {"type": "text", "align": "left", "baseline": "alphabetic", "dx": -1, "dy": 28, "font": "Liberation Serif", "fontSize": 27, "color": "#000000"}, "encoding": {"text": {"field": "b", "type": "nominal"}}}
         ]}
      ]
    },
    {
      "width": 128, "height": 497,
      "data": {"name": "prof"},
      "transform": [{"filter": "datum.n === 6"}],
      "layer": [
        {"data": {"values": [{}]}, "mark": {"type": "rule", "strokeDash": [7, 4], "color": "#111111", "strokeWidth": 1.5},
         "encoding": {"x": {"datum": 0, "type": "quantitative", "scale": {"domain": [-2, 2.5], "nice": false, "zero": false}, "axis": {"orient": "top", "title": null, "values": [-2, -1.5, -1, -0.5, 0, 0.5, 1, 1.5, 2, 2.5], "labelExpr": "datum.value % 1 === 0 ? toString(datum.value) : ''", "tickSize": -6, "labelPadding": 17}}}},
        {"mark": {"type": "line", "color": "#000000", "strokeWidth": 1.4, "clip": true},
         "encoding": {"x": {"field": "g100", "type": "quantitative", "scale": {"domain": [-2, 2.5], "nice": false, "zero": false}, "axis": {"orient": "top", "title": null, "values": [-2, -1.5, -1, -0.5, 0, 0.5, 1, 1.5, 2, 2.5], "labelExpr": "datum.value % 1 === 0 ? toString(datum.value) : ''", "tickSize": -6, "labelPadding": 17}},
           "y": {"field": "r", "type": "quantitative", "scale": {"domain": [-0.058, 1.741], "nice": false, "zero": false}, "axis": null},
           "order": {"field": "r", "type": "quantitative"}}},
        {"mark": {"type": "line", "color": "#e8282c", "strokeWidth": 1.3, "strokeDash": [6, 4], "clip": true},
         "encoding": {"x": {"field": "g40", "type": "quantitative", "scale": {"domain": [-2, 2.5], "nice": false, "zero": false}, "axis": {"orient": "top", "title": null, "values": [-2, -1.5, -1, -0.5, 0, 0.5, 1, 1.5, 2, 2.5], "labelExpr": "datum.value % 1 === 0 ? toString(datum.value) : ''", "tickSize": -6, "labelPadding": 17}},
           "y": {"field": "r", "type": "quantitative", "scale": {"domain": [-0.058, 1.741], "nice": false, "zero": false}, "axis": null},
           "order": {"field": "r", "type": "quantitative"}}},
        {"mark": {"type": "line", "color": "#2424c8", "strokeWidth": 1.3, "strokeDash": [9, 3, 2, 3], "clip": true},
         "encoding": {"x": {"field": "g20", "type": "quantitative", "scale": {"domain": [-2, 2.5], "nice": false, "zero": false}, "axis": {"orient": "top", "title": null, "values": [-2, -1.5, -1, -0.5, 0, 0.5, 1, 1.5, 2, 2.5], "labelExpr": "datum.value % 1 === 0 ? toString(datum.value) : ''", "tickSize": -6, "labelPadding": 17}},
           "y": {"field": "r", "type": "quantitative", "scale": {"domain": [-0.058, 1.741], "nice": false, "zero": false}, "axis": null},
           "order": {"field": "r", "type": "quantitative"}}},
        {"mark": {"type": "point", "shape": "square", "size": 100, "filled": true, "fill": "#ffffff", "stroke": "#505050", "strokeWidth": 1.2, "clip": true},
         "encoding": {"x": {"field": "p100", "type": "quantitative", "scale": {"domain": [-2, 2.5], "nice": false, "zero": false}, "axis": {"orient": "top", "title": null, "values": [-2, -1.5, -1, -0.5, 0, 0.5, 1, 1.5, 2, 2.5], "labelExpr": "datum.value % 1 === 0 ? toString(datum.value) : ''", "tickSize": -6, "labelPadding": 17}},
           "y": {"field": "r", "type": "quantitative", "scale": {"domain": [-0.058, 1.741], "nice": false, "zero": false}, "axis": null}}},
        {"mark": {"type": "point", "shape": "circle", "size": 81, "filled": true, "fill": {"gradient": "radial", "x1": 0.35, "y1": 0.35, "r1": 0, "x2": 0.5, "y2": 0.5, "r2": 0.55, "stops": [{"offset": 0, "color": "#ff9a9a"}, {"offset": 0.3, "color": "#f01818"}, {"offset": 1, "color": "#bf0000"}]}, "stroke": "#c41212", "strokeWidth": 0.6, "clip": true},
         "encoding": {"x": {"field": "p40", "type": "quantitative", "scale": {"domain": [-2, 2.5], "nice": false, "zero": false}, "axis": {"orient": "top", "title": null, "values": [-2, -1.5, -1, -0.5, 0, 0.5, 1, 1.5, 2, 2.5], "labelExpr": "datum.value % 1 === 0 ? toString(datum.value) : ''", "tickSize": -6, "labelPadding": 17}},
           "y": {"field": "r", "type": "quantitative", "scale": {"domain": [-0.058, 1.741], "nice": false, "zero": false}, "axis": null}}},
        {"mark": {"type": "point", "shape": "triangle-up", "size": 150, "filled": false, "color": "#2424c8", "stroke": "#2424c8", "strokeWidth": 1.1, "clip": true},
         "encoding": {"x": {"field": "p20", "type": "quantitative", "scale": {"domain": [-2, 2.5], "nice": false, "zero": false}, "axis": {"orient": "top", "title": null, "values": [-2, -1.5, -1, -0.5, 0, 0.5, 1, 1.5, 2, 2.5], "labelExpr": "datum.value % 1 === 0 ? toString(datum.value) : ''", "tickSize": -6, "labelPadding": 17}},
           "y": {"field": "r", "type": "quantitative", "scale": {"domain": [-0.058, 1.741], "nice": false, "zero": false}, "axis": null}}},
        {"data": {"values": [{"a": "x/d", "b": "=1.5"}]},
         "encoding": {"x": {"datum": 0.25, "type": "quantitative", "scale": {"domain": [-2, 2.5], "nice": false, "zero": false}, "axis": {"orient": "top", "title": null, "values": [-2, -1.5, -1, -0.5, 0, 0.5, 1, 1.5, 2, 2.5], "labelExpr": "datum.value % 1 === 0 ? toString(datum.value) : ''", "tickSize": -6, "labelPadding": 17}},
           "y": {"datum": -0.058, "type": "quantitative", "scale": {"domain": [-0.058, 1.741], "nice": false, "zero": false}, "axis": null}},
         "layer": [
           {"mark": {"type": "text", "align": "right", "baseline": "alphabetic", "dx": -1, "dy": 28, "font": "Liberation Serif", "fontSize": 27, "fontStyle": "italic", "color": "#000000"}, "encoding": {"text": {"field": "a", "type": "nominal"}}},
           {"mark": {"type": "text", "align": "left", "baseline": "alphabetic", "dx": -1, "dy": 28, "font": "Liberation Serif", "fontSize": 27, "color": "#000000"}, "encoding": {"text": {"field": "b", "type": "nominal"}}}
         ]}
      ]
    },
    {
      "width": 128, "height": 497,
      "data": {"name": "prof"},
      "transform": [{"filter": "datum.n === 7"}],
      "layer": [
        {"data": {"values": [{}]}, "mark": {"type": "rule", "strokeDash": [7, 4], "color": "#111111", "strokeWidth": 1.5},
         "encoding": {"x": {"datum": 0, "type": "quantitative", "scale": {"domain": [-2, 2], "nice": false, "zero": false}, "axis": {"orient": "top", "title": null, "values": [-2, -1, 0, 1, 2], "labelExpr": "datum.value % 2 === 0 ? toString(datum.value) : ''", "tickSize": -6, "labelPadding": 17}}}},
        {"mark": {"type": "line", "color": "#000000", "strokeWidth": 1.4, "clip": true},
         "encoding": {"x": {"field": "g100", "type": "quantitative", "scale": {"domain": [-2, 2], "nice": false, "zero": false}, "axis": {"orient": "top", "title": null, "values": [-2, -1, 0, 1, 2], "labelExpr": "datum.value % 2 === 0 ? toString(datum.value) : ''", "tickSize": -6, "labelPadding": 17}},
           "y": {"field": "r", "type": "quantitative", "scale": {"domain": [-0.058, 1.741], "nice": false, "zero": false}, "axis": null},
           "order": {"field": "r", "type": "quantitative"}}},
        {"mark": {"type": "line", "color": "#e8282c", "strokeWidth": 1.3, "strokeDash": [6, 4], "clip": true},
         "encoding": {"x": {"field": "g40", "type": "quantitative", "scale": {"domain": [-2, 2], "nice": false, "zero": false}, "axis": {"orient": "top", "title": null, "values": [-2, -1, 0, 1, 2], "labelExpr": "datum.value % 2 === 0 ? toString(datum.value) : ''", "tickSize": -6, "labelPadding": 17}},
           "y": {"field": "r", "type": "quantitative", "scale": {"domain": [-0.058, 1.741], "nice": false, "zero": false}, "axis": null},
           "order": {"field": "r", "type": "quantitative"}}},
        {"mark": {"type": "line", "color": "#2424c8", "strokeWidth": 1.3, "strokeDash": [9, 3, 2, 3], "clip": true},
         "encoding": {"x": {"field": "g20", "type": "quantitative", "scale": {"domain": [-2, 2], "nice": false, "zero": false}, "axis": {"orient": "top", "title": null, "values": [-2, -1, 0, 1, 2], "labelExpr": "datum.value % 2 === 0 ? toString(datum.value) : ''", "tickSize": -6, "labelPadding": 17}},
           "y": {"field": "r", "type": "quantitative", "scale": {"domain": [-0.058, 1.741], "nice": false, "zero": false}, "axis": null},
           "order": {"field": "r", "type": "quantitative"}}},
        {"mark": {"type": "point", "shape": "square", "size": 100, "filled": true, "fill": "#ffffff", "stroke": "#505050", "strokeWidth": 1.2, "clip": true},
         "encoding": {"x": {"field": "p100", "type": "quantitative", "scale": {"domain": [-2, 2], "nice": false, "zero": false}, "axis": {"orient": "top", "title": null, "values": [-2, -1, 0, 1, 2], "labelExpr": "datum.value % 2 === 0 ? toString(datum.value) : ''", "tickSize": -6, "labelPadding": 17}},
           "y": {"field": "r", "type": "quantitative", "scale": {"domain": [-0.058, 1.741], "nice": false, "zero": false}, "axis": null}}},
        {"mark": {"type": "point", "shape": "circle", "size": 81, "filled": true, "fill": {"gradient": "radial", "x1": 0.35, "y1": 0.35, "r1": 0, "x2": 0.5, "y2": 0.5, "r2": 0.55, "stops": [{"offset": 0, "color": "#ff9a9a"}, {"offset": 0.3, "color": "#f01818"}, {"offset": 1, "color": "#bf0000"}]}, "stroke": "#c41212", "strokeWidth": 0.6, "clip": true},
         "encoding": {"x": {"field": "p40", "type": "quantitative", "scale": {"domain": [-2, 2], "nice": false, "zero": false}, "axis": {"orient": "top", "title": null, "values": [-2, -1, 0, 1, 2], "labelExpr": "datum.value % 2 === 0 ? toString(datum.value) : ''", "tickSize": -6, "labelPadding": 17}},
           "y": {"field": "r", "type": "quantitative", "scale": {"domain": [-0.058, 1.741], "nice": false, "zero": false}, "axis": null}}},
        {"mark": {"type": "point", "shape": "triangle-up", "size": 150, "filled": false, "color": "#2424c8", "stroke": "#2424c8", "strokeWidth": 1.1, "clip": true},
         "encoding": {"x": {"field": "p20", "type": "quantitative", "scale": {"domain": [-2, 2], "nice": false, "zero": false}, "axis": {"orient": "top", "title": null, "values": [-2, -1, 0, 1, 2], "labelExpr": "datum.value % 2 === 0 ? toString(datum.value) : ''", "tickSize": -6, "labelPadding": 17}},
           "y": {"field": "r", "type": "quantitative", "scale": {"domain": [-0.058, 1.741], "nice": false, "zero": false}, "axis": null}}},
        {"data": {"values": [{"a": "x/d", "b": "=2.5"}]},
         "encoding": {"x": {"datum": 0, "type": "quantitative", "scale": {"domain": [-2, 2], "nice": false, "zero": false}, "axis": {"orient": "top", "title": null, "values": [-2, -1, 0, 1, 2], "labelExpr": "datum.value % 2 === 0 ? toString(datum.value) : ''", "tickSize": -6, "labelPadding": 17}},
           "y": {"datum": -0.058, "type": "quantitative", "scale": {"domain": [-0.058, 1.741], "nice": false, "zero": false}, "axis": null}},
         "layer": [
           {"mark": {"type": "text", "align": "right", "baseline": "alphabetic", "dx": -1, "dy": 28, "font": "Liberation Serif", "fontSize": 27, "fontStyle": "italic", "color": "#000000"}, "encoding": {"text": {"field": "a", "type": "nominal"}}},
           {"mark": {"type": "text", "align": "left", "baseline": "alphabetic", "dx": -1, "dy": 28, "font": "Liberation Serif", "fontSize": 27, "color": "#000000"}, "encoding": {"text": {"field": "b", "type": "nominal"}}}
         ]}
      ]
    }
  ]
}
